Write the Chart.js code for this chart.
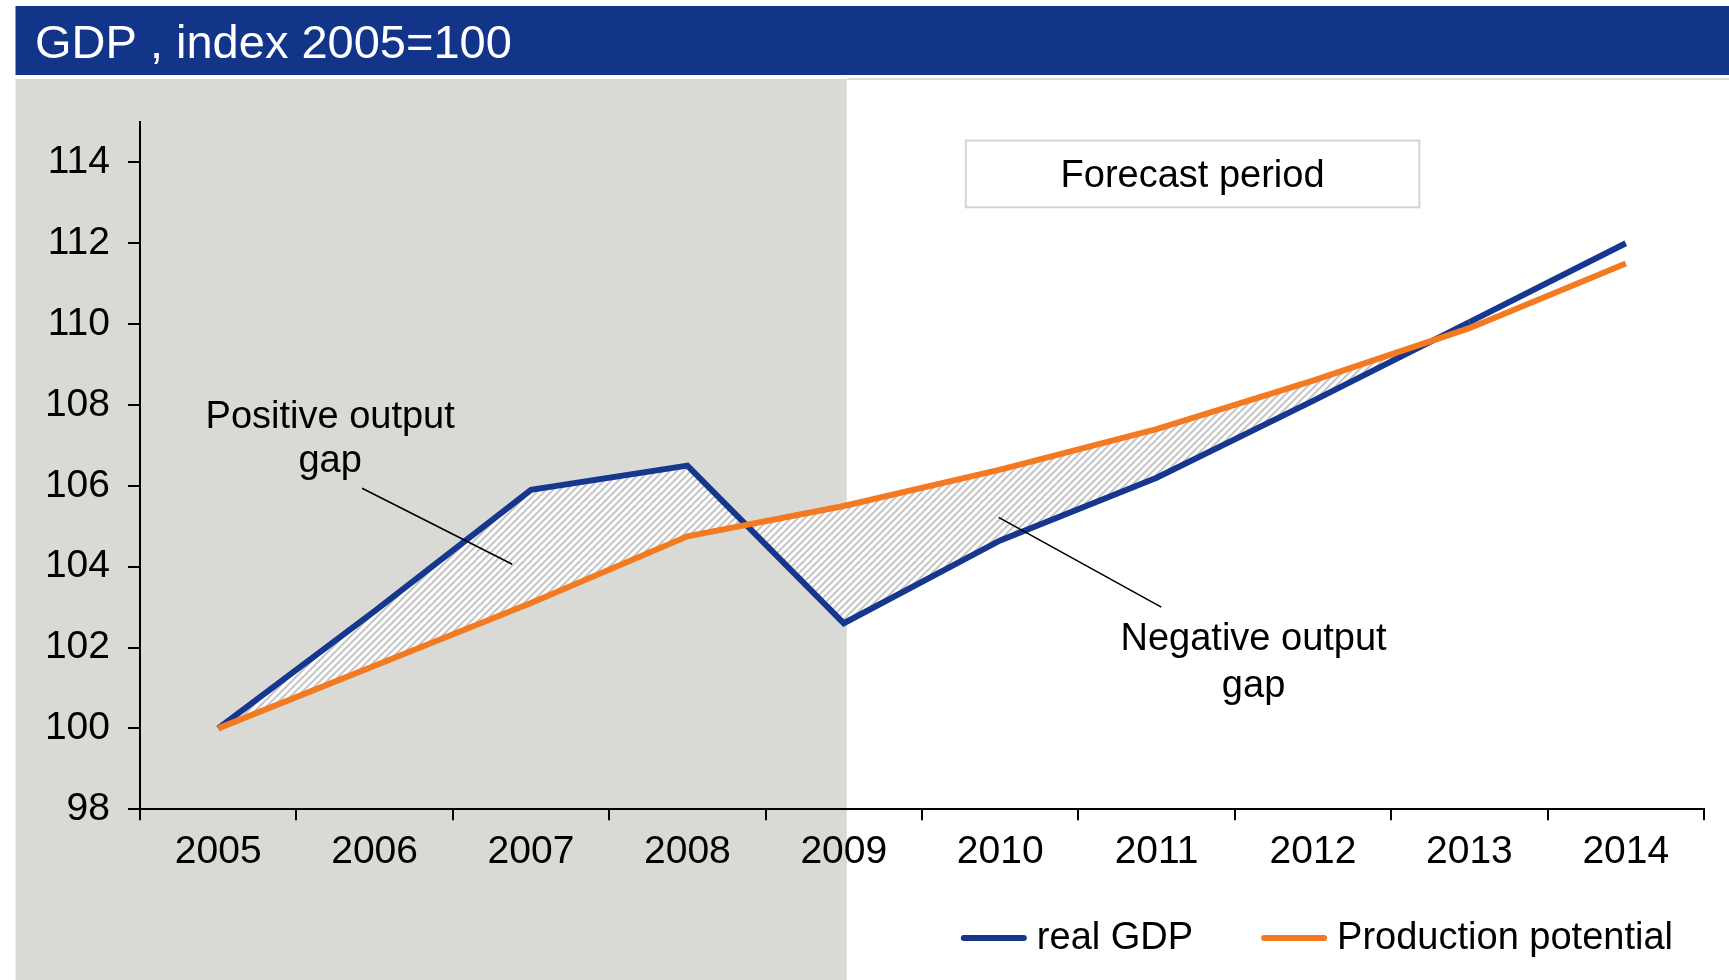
<!DOCTYPE html>
<html>
<head>
<meta charset="utf-8">
<script src="https://cdn.jsdelivr.net/npm/chart.js@4.4.0/dist/chart.umd.min.js"></script>
<style>
html,body{margin:0;padding:0;background:#fff;overflow:hidden}
#wrap{width:1729px;height:980px;position:relative}
canvas{display:block}
</style>
</head>
<body>
<div id="wrap"><canvas id="c" width="1729" height="980"></canvas></div>
<script>
// ---- data ----
const years = ['2005','2006','2007','2008','2009','2010','2011','2012','2013','2014'];
const realGDP   = [100.0, 102.9, 105.9, 106.5, 102.6, 104.65, 106.2, 108.1, 110.05, 112.0];
const potential = [100.0, 101.55, 103.1, 104.75, 105.5, 106.4, 107.4, 108.6, 109.9, 111.5];
const yTickValues = [98, 100, 102, 104, 106, 108, 110, 112, 114];
const seriesNames = ['real GDP', 'Production potential'];
const titleText = 'GDP , index 2005=100';
const forecastLabel = 'Forecast period';
const positiveGapLabel = ['Positive output', 'gap'];
const negativeGapLabel = ['Negative output', 'gap'];
const forecastStartYear = '2009';
const lastHatchedYear = '2013';

// ---- styles ----
const FONT = '"Liberation Sans", Arial, Helvetica, sans-serif';
const BLUE = '#15378D';
const ORANGE = '#F37A20';
const NAVY_BAR = '#133589';
const GREY_BG = '#D9D9D5';

// hatch pattern for the gap area
const pc = document.createElement('canvas');
pc.width = 7; pc.height = 7;
const pg = pc.getContext('2d');
pg.fillStyle = '#ffffff'; pg.fillRect(0, 0, 7, 7);
pg.strokeStyle = '#c6c6c6'; pg.lineWidth = 2;
pg.beginPath();
pg.moveTo(0, 7); pg.lineTo(7, 0);
pg.moveTo(-2, 2); pg.lineTo(2, -2);
pg.moveTo(5, 9); pg.lineTo(9, 5);
pg.stroke();
const hatch = document.createElement('canvas').getContext('2d').createPattern(pc, 'repeat');

const decor = {
  id: 'decor',
  beforeDraw(chart) {
    const ctx = chart.ctx;
    const xs = chart.scales.x;
    const W = chart.width, H = chart.height;
    ctx.save();
    ctx.fillStyle = '#fff';
    ctx.fillRect(0, 0, W, H);
    // history shading
    const xEnd = xs.getPixelForValue(years.indexOf(forecastStartYear)) + 3;
    ctx.fillStyle = GREY_BG;
    ctx.fillRect(15.5, 79, xEnd - 15.5, H - 79);
    ctx.fillStyle = '#dcdcdc';
    ctx.fillRect(xEnd, 78, W - xEnd, 2);
    // title bar
    ctx.fillStyle = NAVY_BAR;
    ctx.fillRect(15.5, 6, W - 15.5, 69);
    ctx.fillStyle = '#fff';
    ctx.font = '47px ' + FONT;
    ctx.textBaseline = 'alphabetic';
    ctx.textAlign = 'left';
    ctx.fillText(titleText, 35, 58);
    ctx.restore();
  },
  afterDraw(chart) {
    const ctx = chart.ctx;
    const xs = chart.scales.x, ys = chart.scales.y;
    const px = v => xs.getPixelForValue(v);
    const py = v => ys.getPixelForValue(v);
    ctx.save();
    // forecast box
    const bx0 = px(4.78), bx1 = px(7.68), by0 = py(114.54), by1 = py(112.89);
    ctx.fillStyle = '#fff';
    ctx.fillRect(bx0, by0, bx1 - bx0, by1 - by0);
    ctx.strokeStyle = '#d4d4d4';
    ctx.lineWidth = 2;
    ctx.strokeRect(bx0, by0, bx1 - bx0, by1 - by0);
    ctx.fillStyle = '#000';
    ctx.font = '38px ' + FONT;
    ctx.textAlign = 'center';
    ctx.textBaseline = 'middle';
    ctx.fillText(forecastLabel, (bx0 + bx1) / 2, (by0 + by1) / 2 + 3);

    // annotations
    ctx.fillText(positiveGapLabel[0], px(0.716), py(107.7));
    ctx.fillText(positiveGapLabel[1], px(0.716), py(106.6));
    ctx.fillText(negativeGapLabel[0], px(6.62), py(102.2));
    ctx.fillText(negativeGapLabel[1], px(6.62), py(101.04));
    ctx.strokeStyle = '#000';
    ctx.lineWidth = 1.6;
    ctx.beginPath();
    ctx.moveTo(px(0.92), py(105.94)); ctx.lineTo(px(1.88), py(104.06));
    ctx.moveTo(px(4.99), py(105.22)); ctx.lineTo(px(6.03), py(103.0));
    ctx.stroke();

    // legend
    const ds = chart.data.datasets;
    ctx.font = '38px ' + FONT;
    ctx.textAlign = 'left';
    const lineLen = 66, gapTxt = 10, gapItem = 68;
    const widths = ds.map(d => lineLen + gapTxt + ctx.measureText(d.label).width);
    const total = widths.reduce((a, b) => a + b, 0) + gapItem * (ds.length - 1);
    let x = chart.chartArea.right - 31 - total;
    const ly = 938;
    ds.forEach((d, i) => {
      ctx.strokeStyle = d.borderColor;
      ctx.lineWidth = 6;
      ctx.lineCap = 'round';
      ctx.beginPath();
      ctx.moveTo(x + 3, ly); ctx.lineTo(x + lineLen - 3, ly);
      ctx.stroke();
      ctx.fillStyle = '#000';
      ctx.fillText(d.label, x + lineLen + gapTxt, ly + 1);
      x += widths[i] + gapItem;
    });
    ctx.restore();
  }
};

const hatchStop = years.indexOf(lastHatchedYear);

new Chart(document.getElementById('c'), {
  type: 'line',
  data: {
    labels: years,
    datasets: [
      {
        label: seriesNames[0],
        data: realGDP,
        borderColor: BLUE,
        backgroundColor: hatch,
        borderWidth: 6,
        pointRadius: 0,
        tension: 0,
        borderJoinStyle: 'miter',
        fill: { target: 1, above: hatch, below: hatch },
        segment: {
          backgroundColor: c => (c.p0DataIndex >= hatchStop ? 'rgba(0,0,0,0)' : hatch)
        },
        order: 1
      },
      {
        label: seriesNames[1],
        data: potential,
        borderColor: ORANGE,
        backgroundColor: ORANGE,
        borderWidth: 6,
        pointRadius: 0,
        tension: 0,
        borderJoinStyle: 'miter',
        fill: false,
        order: 0
      }
    ]
  },
  options: {
    responsive: false,
    animation: false,
    devicePixelRatio: 1,
    layout: { padding: { left: 44, right: 25, top: 122, bottom: 95 } },
    plugins: {
      legend: { display: false },
      title: { display: false },
      tooltip: { enabled: false },
      filler: { drawTime: 'beforeDatasetsDraw', propagate: false }
    },
    scales: {
      x: {
        type: 'category',
        offset: true,
        grid: { display: true, drawOnChartArea: false, drawTicks: true, tickLength: 11, color: '#000', lineWidth: 2, offset: true },
        border: { display: true, color: '#000', width: 2 },
        ticks: { color: '#000', font: { family: FONT, size: 39 }, padding: 9, maxRotation: 0, autoSkip: false }
      },
      y: {
        min: 98,
        max: 115,
        afterBuildTicks: s => { s.ticks = yTickValues.map(v => ({ value: v })); },
        afterFit: s => { s.width = 96; },
        grid: { display: true, drawOnChartArea: false, drawTicks: true, tickLength: 12, color: '#000', lineWidth: 2 },
        border: { display: true, color: '#000', width: 2 },
        ticks: { color: '#000', font: { family: FONT, size: 39 }, padding: 18 }
      }
    }
  },
  plugins: [decor]
});
</script>
</body>
</html>
